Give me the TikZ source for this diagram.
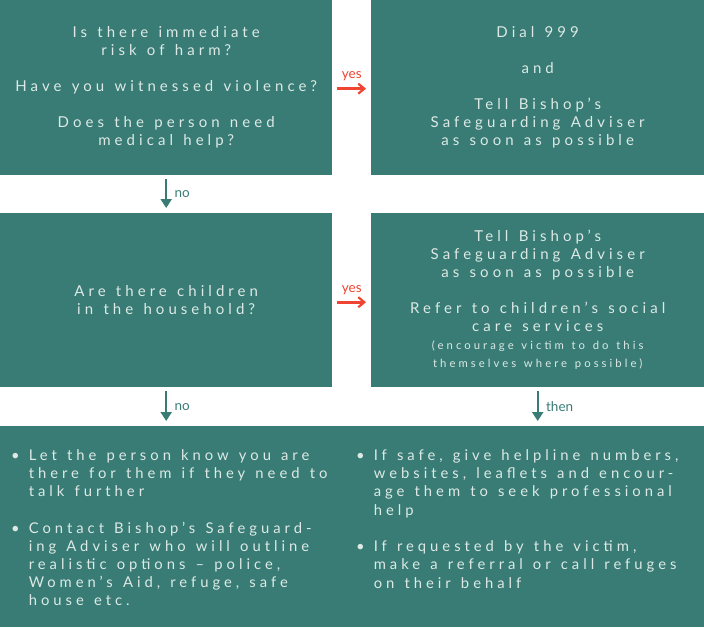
\documentclass[tikz,border=0pt]{standalone}
\usepackage{fontspec}
\setmainfont{Lato}[LetterSpace=27,WordSpace=1.3]
\newfontfamily\labelfont{Lato}
\usetikzlibrary{arrows.meta}
\definecolor{tealbox}{HTML}{387C75}
\definecolor{boxtext}{HTML}{DDE9E5}
\definecolor{redarr}{HTML}{EF4431}
\begin{document}
\begin{tikzpicture}[x=1pt,y=-1pt,
  box/.style={fill=tealbox,draw=none,inner sep=0pt,text=boxtext,align=center,
    font=\fontsize{15}{18}\selectfont,anchor=north west},
  halfbox/.style={box,minimum width=332pt,minimum height=175pt},
  listtext/.style={inner sep=0pt,text=boxtext,align=left,anchor=north west,
    font=\fontsize{14.8}{18.2}\selectfont},
  yesarrow/.style={draw=redarr,line width=2.6pt,-{Straight Barb[length=6pt,width=10pt,line width=2.2pt]},shorten <=5pt,shorten >=5pt},
  noarrow/.style={draw=tealbox,line width=2.2pt,-{Triangle[length=9pt,width=11pt]},shorten <=4pt,shorten >=5pt},
  yeslabel/.style={text=redarr,font=\labelfont\fontsize{13.5}{14}\selectfont},
  nolabel/.style={text=tealbox,font=\labelfont\fontsize{13.5}{14}\selectfont}
]
\useasboundingbox (0,0) rectangle (704,627);
\node[halfbox] (q1) at (0,0) {Is there immediate\\risk of harm?\\[18pt]Have you witnessed violence?\\[18pt]Does the person need\\medical help?};
\node[halfbox,minimum width=333pt] (a1) at (371,0) {Dial 999\\[18pt]and\\[18pt]Tell Bishop’s\\Safeguarding Adviser\\as soon as possible};
\node[halfbox,minimum height=174pt] (q2) at (0,213) {Are there children\\in the household?};
\node[halfbox,minimum width=333pt,minimum height=174pt] (a2) at (371,213) {Tell Bishop’s\\Safeguarding Adviser\\as soon as possible\\[18pt]Refer to children’s social\\care services\\{\fontsize{11.3}{18}\selectfont (encourage victim to do this}\\{\fontsize{11.3}{18}\selectfont themselves where possible)}};
\node[box,minimum width=704pt,minimum height=201pt] (fin) at (0,426) {};
\node[listtext] (left) at (11,447.5) {\begin{tabular}{@{}l@{\hspace{9pt}}l@{}}
\textbullet & Let the person know you are\\
 & there for them if they need to\\
 & talk further\\[18pt]
\textbullet & Contact Bishop’s Safeguard-\\
 & ing Adviser who will outline\\
 & realistic options – police,\\
 & Women’s Aid, refuge, safe\\
 & house etc.
\end{tabular}};
\node[listtext] (right) at (356,447.5) {\begin{tabular}{@{}l@{\hspace{9pt}}l@{}}
\textbullet & If safe, give helpline numbers,\\
 & websites, leaflets and encour-\\
 & age them to seek professional\\
 & help\\[18.5pt]
\textbullet & If requested by the victim,\\
 & make a referral or call refuges\\
 & on their behalf
\end{tabular}};
\draw[yesarrow] ([yshift=-1pt]q1.east) -- ([yshift=-1pt]a1.west) node[midway,above=3pt,yeslabel] {yes};
\draw[yesarrow] ([yshift=-2pt]q2.east) -- ([yshift=-2pt]a2.west) node[midway,above=3pt,yeslabel] {yes};
\draw[noarrow] (q1.south) -- (q2.north) node[midway,right=4pt,nolabel] {no};
\draw[noarrow] (q2.south) -- (q2.south |- fin.north) node[midway,right=4pt,nolabel] {no};
\draw[noarrow] (a2.south) -- (a2.south |- fin.north) node[midway,right=4pt,nolabel] {then};
\end{tikzpicture}
\end{document}
